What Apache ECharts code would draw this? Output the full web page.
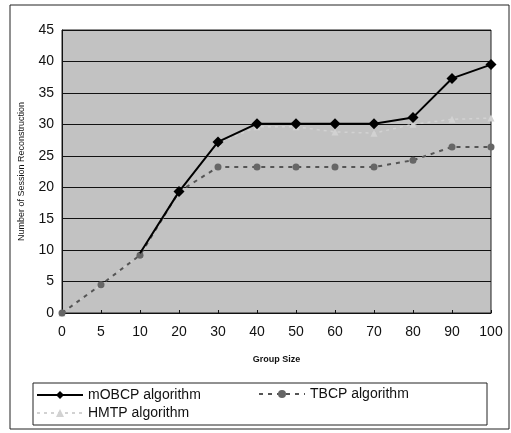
<!DOCTYPE html>
<html>
<head>
<meta charset="utf-8">
<script src="https://cdn.jsdelivr.net/npm/echarts@6/dist/echarts.min.js"></script>
<style>
html,body{margin:0;padding:0;background:#fff;}
#chart{width:511px;height:433px;}
</style>
</head>
<body>
<div id="chart"></div>
<script>
var categories = ['0','5','10','20','30','40','50','60','70','80','90','100'];
var yTicks = [0,5,10,15,20,25,30,35,40,45];
var mobcp = [null, null, 9.5, 19.3, 27.2, 30.1, 30.1, 30.1, 30.1, 31.1, 37.3, 39.5];
var tbcp  = [0, 4.5, 9.2, 19.3, 23.2, 23.2, 23.2, 23.2, 23.2, 24.3, 26.4, 26.4];
var hmtp  = [0, 4.5, 9.2, 19.3, 27.0, 29.6, 29.6, 28.8, 28.6, 30.0, 30.8, 31.0];
var seriesNames = ['mOBCP algorithm', 'TBCP algorithm', 'HMTP algorithm'];

// first point of mOBCP is drawn without a marker
var firstIdx = mobcp.findIndex(function(v){return v!=null;});
var mobcpData = mobcp.map(function(v,i){return i===firstIdx ? {value:v, symbol:'none'} : v;});

var chart = echarts.init(document.getElementById('chart'), null, {renderer:'canvas'});
var font = 'Liberation Sans, Arial, sans-serif';
var legendCommon = {itemWidth:46, itemHeight:10, padding:0,
  textStyle:{fontFamily:font, fontSize:14, color:'#111'}};
chart.setOption({
  animation: false,
  backgroundColor: '#fff',
  graphic: [
    {type:'rect', shape:{x:10, y:5, width:499, height:424}, style:{fill:'none', stroke:'#222', lineWidth:1}, z:-10},
    {type:'rect', shape:{x:33, y:383, width:454, height:42}, style:{fill:'#fff', stroke:'#222', lineWidth:1}, z:-5}
  ],
  grid: {left:62, right:20, top:30, bottom:120, show:true, backgroundColor:'#c2c2c2', borderColor:'#222', borderWidth:1},
  xAxis: {
    type:'category', data:categories, boundaryGap:false,
    name:'Group Size', nameLocation:'middle', nameGap:42,
    nameTextStyle:{fontFamily:font, fontSize:9, fontWeight:'bold', color:'#111'},
    axisLine:{show:true, lineStyle:{color:'#111', width:1}},
    axisTick:{show:true, inside:true, length:3, lineStyle:{color:'#111'}},
    axisLabel:{fontFamily:font, fontSize:14, color:'#111', margin:12},
    splitLine:{show:false}
  },
  yAxis: {
    type:'value', min:0, max:45, interval:5,
    name:'Number of Session Reconstruction', nameLocation:'middle', nameGap:36,
    nameTextStyle:{fontFamily:font, fontSize:9, color:'#111'},
    axisLine:{show:true, lineStyle:{color:'#111'}},
    axisTick:{show:false},
    axisLabel:{fontFamily:font, fontSize:14, color:'#111', margin:8,
      formatter:function(v){return yTicks.indexOf(v)>=0 ? String(v) : '';}},
    splitLine:{show:true, lineStyle:{color:'#111', width:1.2}}
  },
  legend: [
    Object.assign({data:[seriesNames[0]], left:36, top:388}, legendCommon),
    Object.assign({data:[seriesNames[1]], left:258, top:387}, legendCommon),
    Object.assign({data:[seriesNames[2]], left:36, top:406}, legendCommon)
  ],
  series: [
    {name:seriesNames[2], type:'line', data:hmtp, symbol:'triangle', symbolSize:7,
     lineStyle:{color:'#d2d2d2', width:1.5, type:[3,4]}, itemStyle:{color:'#d2d2d2'}, z:1},
    {name:seriesNames[1], type:'line', data:tbcp, symbol:'circle', symbolSize:7,
     lineStyle:{color:'#555', width:2, type:[4,5]}, itemStyle:{color:'#666'}, z:2},
    {name:seriesNames[0], type:'line', data:mobcpData, symbol:'diamond', symbolSize:11,
     lineStyle:{color:'#000', width:2}, itemStyle:{color:'#000'}, z:3}
  ]
});
</script>
</body>
</html>
